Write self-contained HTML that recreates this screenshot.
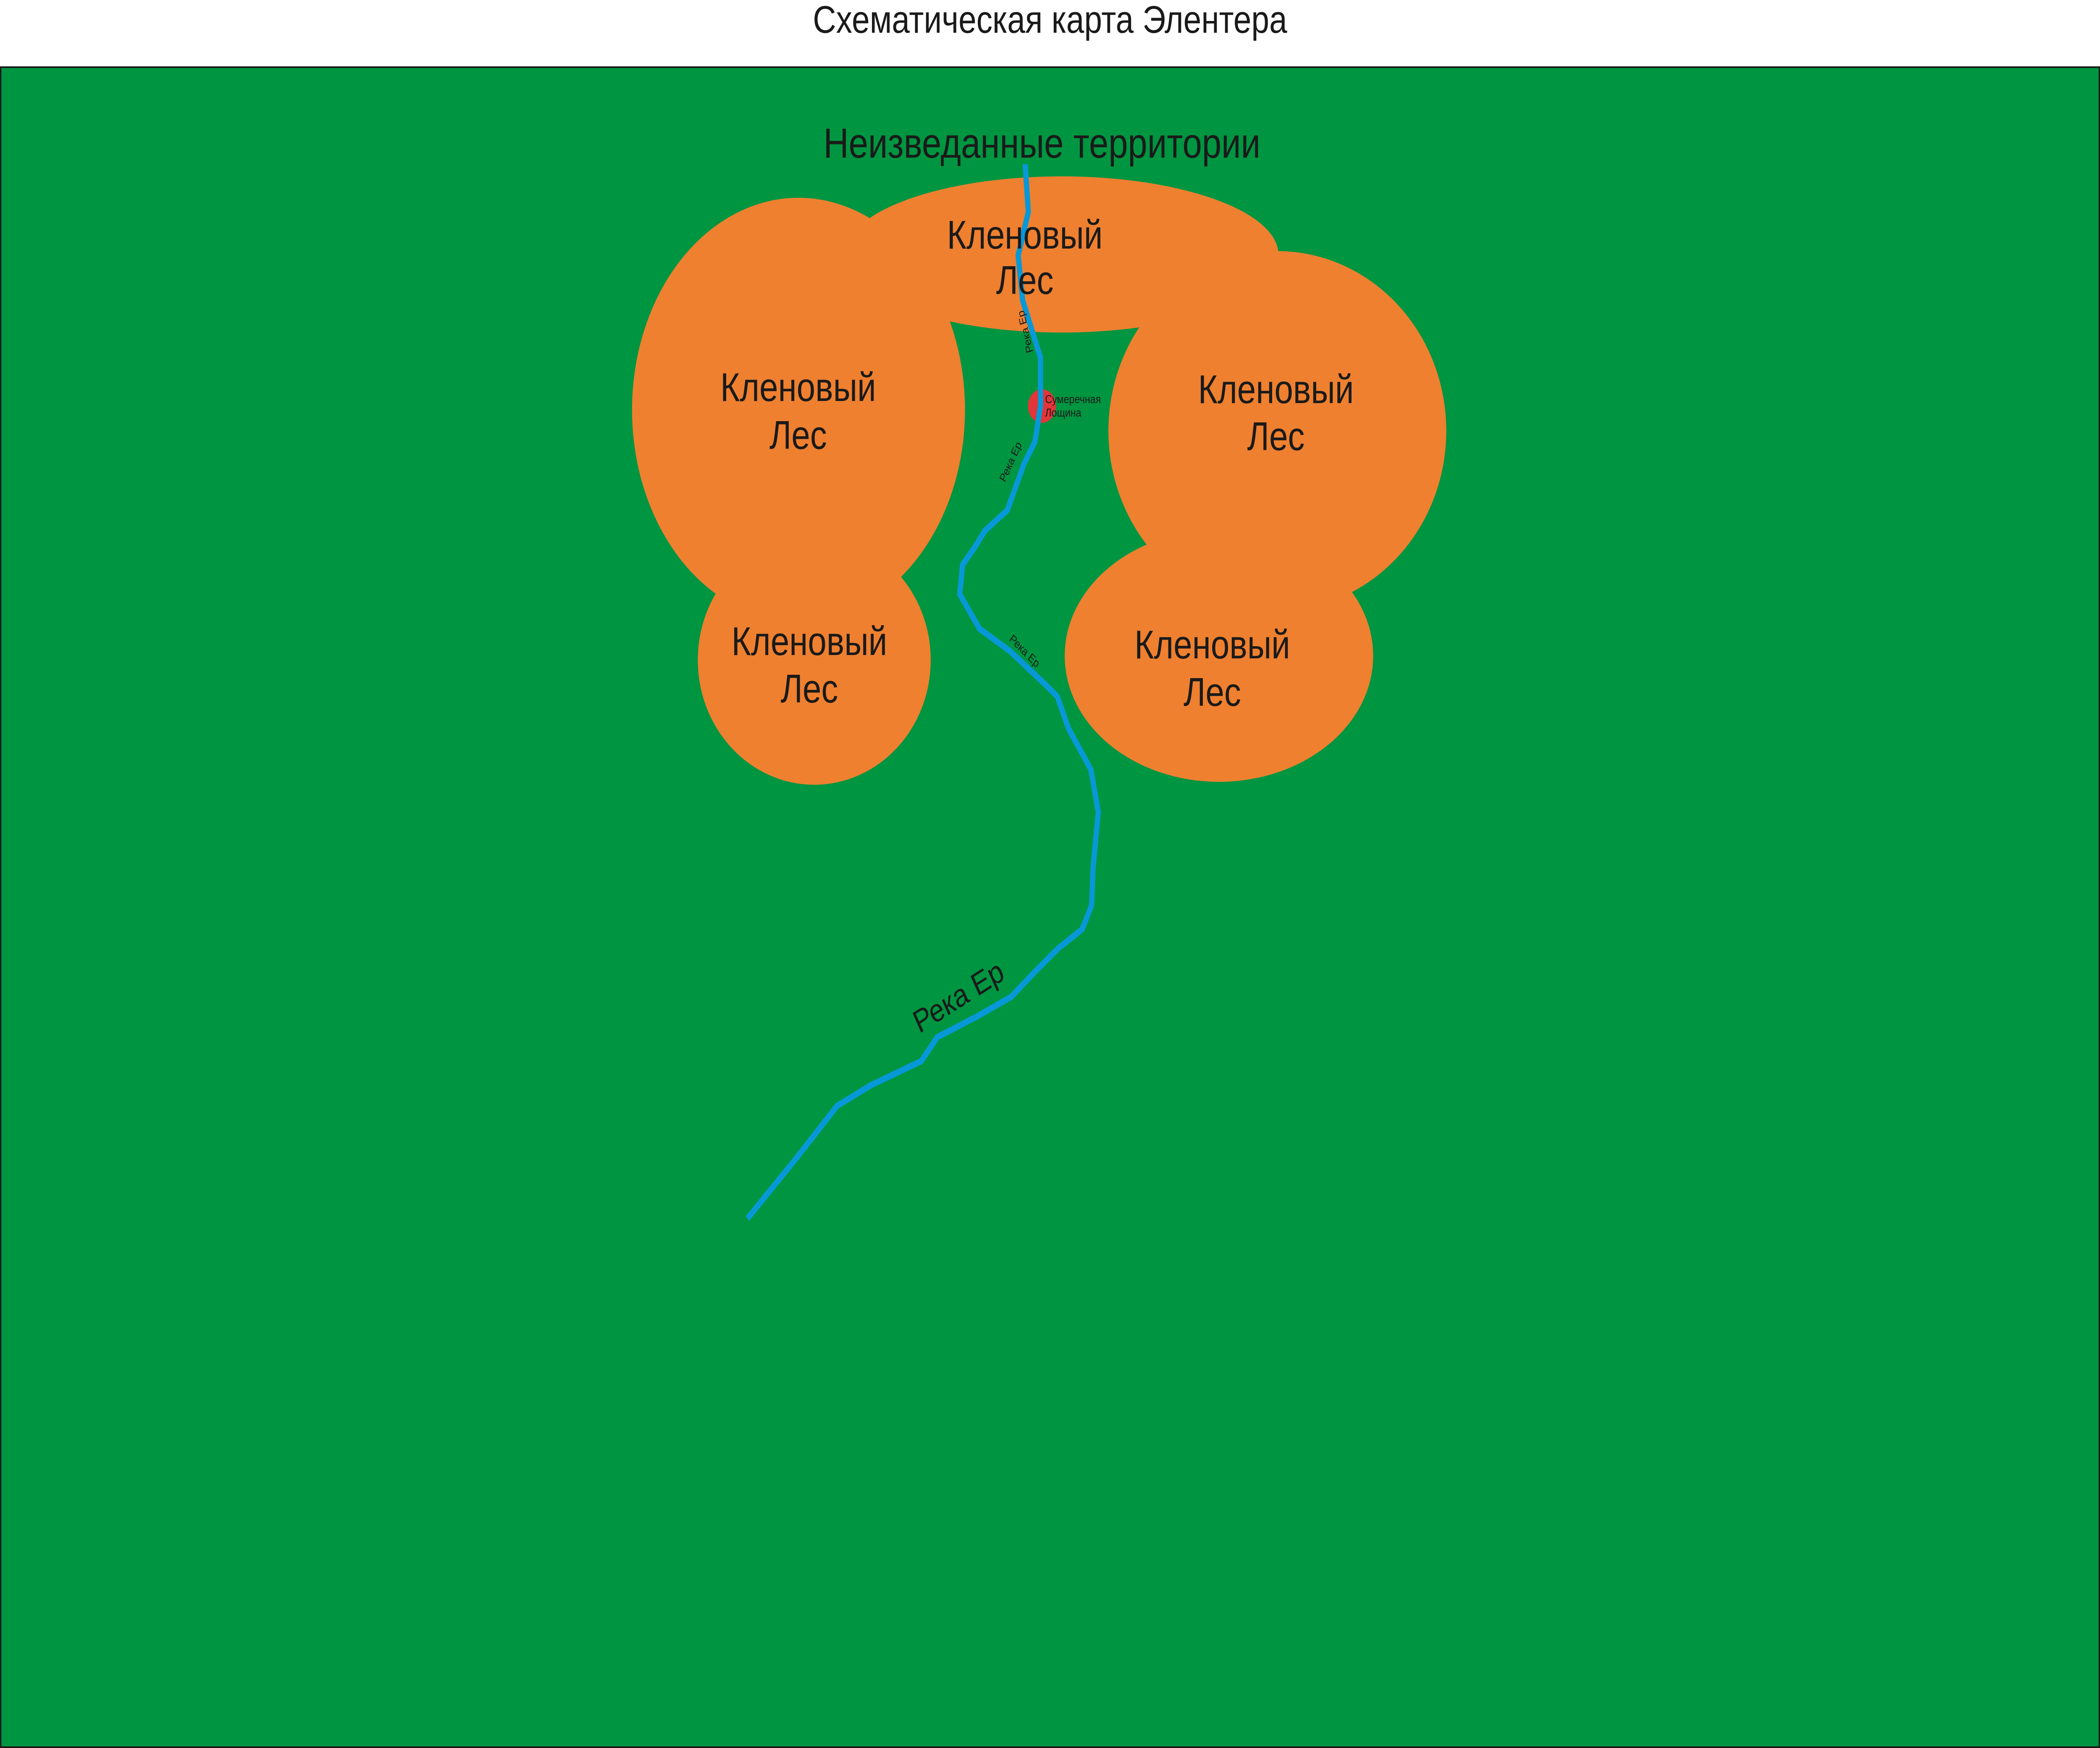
<!DOCTYPE html>
<html><head><meta charset="utf-8">
<style>
html,body{margin:0;padding:0;background:#fff;width:100%;height:100%;overflow:hidden;}
svg{display:block;position:absolute;left:0;top:0;width:100vw;height:100vh;}
text{font-family:"Liberation Sans","Noto Sans CJK SC",sans-serif;fill:#1a1a1a;}
</style></head>
<body>
<svg viewBox="0 0 6004 4163" preserveAspectRatio="none" xmlns="http://www.w3.org/2000/svg">
<rect x="0" y="0" width="6004" height="4163" fill="#ffffff"/>
<text x="3002" y="46" font-size="92" text-anchor="middle" dominant-baseline="central">Схематическая карта Элентера</text>
<rect x="2" y="160" width="6000" height="4001" fill="#009540" stroke="#1a1a1a" stroke-width="4"/>
<g fill="#ee8030">
<ellipse cx="3035" cy="606" rx="620" ry="186"/>
<ellipse cx="2283" cy="976" rx="476" ry="505"/>
<ellipse cx="3652" cy="1026" rx="483" ry="428"/>
<ellipse cx="2328" cy="1572" rx="333" ry="297"/>
<ellipse cx="3485" cy="1562" rx="441" ry="300"/>
</g>
<circle cx="2979" cy="967" r="40" fill="#e2353a"/>
<path d="M2931,391 L2940,505 L2911,608 L2924,716 L2975,852 L2975,965 L2959,1052 L2927,1106 L2880,1215 L2816,1264 L2784,1307 L2752,1345 L2744,1415 L2800,1497 L2888,1551 L2991,1632 L3023,1659 L3055,1735 L3119,1833 L3140,1934 L3125,2068 L3121,2156 L3094,2213 L3025,2259 L2956,2317 L2891,2374 L2795,2420 L2680,2470 L2634,2527 L2489,2585 L2393,2634 L2278,2757 L2137,2902" fill="none" stroke="#0798d8" stroke-width="15" stroke-linejoin="round" stroke-linecap="butt"/>
<g font-size="96" text-anchor="middle" dominant-baseline="central">
<text x="2930" y="559">Кленовый</text><text x="2930" y="667">Лес</text>
<text x="2282" y="922">Кленовый</text><text x="2282" y="1036">Лес</text>
<text x="3648" y="927">Кленовый</text><text x="3648" y="1039">Лес</text>
<text x="2314" y="1527">Кленовый</text><text x="2314" y="1640">Лес</text>
<text x="3466" y="1535">Кленовый</text><text x="3466" y="1648">Лес</text>
</g>
<text x="2979" y="342" font-size="100" text-anchor="middle" dominant-baseline="central">Неизведанные территории</text>
<text x="2988" y="960" font-size="28">Сумеречная</text>
<text x="2988" y="992" font-size="28">Лощина</text>
<g font-size="28" text-anchor="middle" dominant-baseline="central">
<text transform="translate(2932,790) rotate(-105)">Река Ер</text>
<text transform="translate(2890,1100) rotate(-62)">Река Ер</text>
<text transform="translate(2929,1551) rotate(40)">Река Ер</text>
</g>
<text transform="translate(2740,2373) rotate(-28)" font-size="76" text-anchor="middle" dominant-baseline="central">Река Ер</text>
</svg>
</body></html>
